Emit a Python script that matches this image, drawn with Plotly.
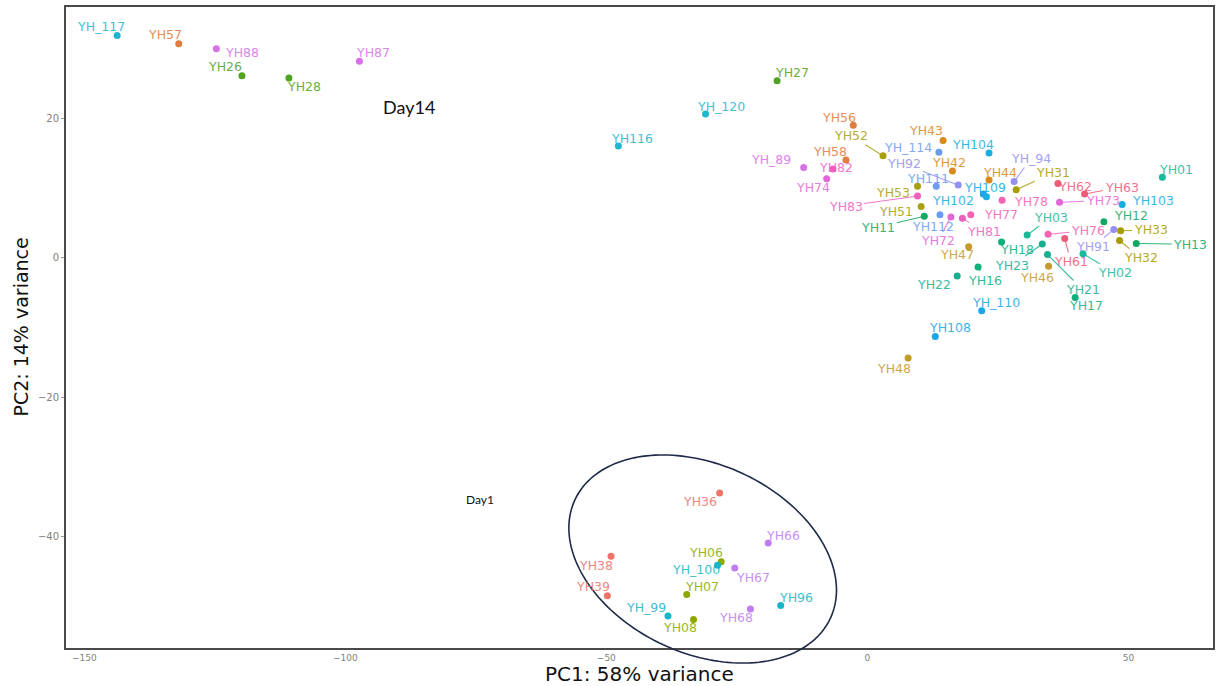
import numpy as np
import plotly.graph_objects as go

# ---------------- data ----------------
SAMPLES = ["YH_117","YH57","YH88","YH26","YH28","YH87","YH27","YH_120","YH116","YH56",
           "YH52","YH58","YH_89","YH82","YH74","YH43","YH_114","YH104","YH92","YH42",
           "YH111","YH109","YH102","YH53","YH83","YH51","YH11","YH112","YH72","YH81",
           "YH77","YH47","YH18","YH16","YH22","YH_110","YH108","YH48","YH23","YH03",
           "YH_94","YH44","YH31","YH62","YH63","YH78","YH73","YH103","YH01","YH12",
           "YH76","YH91","YH33","YH13","YH32","YH61","YH02","YH46","YH21","YH17",
           "YH36","YH66","YH38","YH06","YH_100","YH67","YH39","YH07","YH96","YH_99",
           "YH68","YH08"]

PC1 = [-143.7,-131.9,-124.7,-119.8,-110.8,-97.3,-17.3,-31.0,-47.7,-2.7,
       3.0,-4.1,-12.2,-6.6,-7.8,14.5,13.7,23.3,17.4,16.3,
       13.2,22.2,22.8,9.6,9.6,10.3,10.9,13.9,16.0,18.2,
       19.8,19.4,25.7,21.2,17.2,21.9,13.0,7.8,33.5,30.6,
       28.1,23.3,28.5,36.5,41.6,25.8,36.8,48.8,56.5,45.3,
       34.6,47.2,48.5,51.5,48.3,37.8,41.3,34.7,34.5,39.8,
       -28.3,-19.0,-49.1,-28.0,-28.7,-25.4,-49.8,-34.6,-16.6,-38.2,
       -22.4,-33.3]

PC2 = [32.0,30.8,30.1,26.2,25.9,28.3,25.5,20.7,16.1,19.1,
       14.7,14.1,13.0,12.8,11.4,16.9,15.2,15.1,10.5,12.5,
       10.3,9.2,8.8,10.3,8.9,7.4,6.0,6.2,5.9,5.7,
       6.2,1.6,2.3,-1.3,-2.6,-7.6,-11.3,-14.4,2.0,3.3,
       11.0,11.2,9.8,10.7,9.2,8.3,8.0,7.7,11.6,5.2,
       3.4,4.1,3.9,2.1,2.5,2.8,0.6,-1.2,0.5,-5.7,
       -33.8,-41.0,-42.9,-43.7,-44.2,-44.6,-48.6,-48.4,-50.0,-51.5,
       -50.5,-52.0]

GROUP = ["116-120","56-58","87-89","26-28","26-28","87-89","26-28","116-120","116-120","56-58",
         "51-53","56-58","87-89","81-83","72-74","42-44","111-114","102-104","91-94","42-44",
         "111-114","108-110","102-104","51-53","81-83","51-53","11-13","111-114","72-74","81-83",
         "76-78","46-48","16-18","16-18","21-23","108-110","108-110","46-48","21-23","01-03",
         "91-94","42-44","31-33","61-63","61-63","76-78","72-74","102-104","01-03","11-13",
         "76-78","91-94","31-33","11-13","31-33","61-63","01-03","46-48","21-23","16-18",
         "36-39","66-68","36-39","06-08","96-100","66-68","36-39","06-08","96-100","96-100",
         "66-68","06-08"]

X_TITLE = "PC1: 58% variance"
Y_TITLE = "PC2: 14% variance"
X_TICKS = [-150, -100, -50, 0, 50]
Y_TICKS = [-40, -20, 0, 20]

# ---------------- styling / layout ----------------
GROUP_COLORS = {
    "01-03": "#19B99A", "06-08": "#8FA800", "11-13": "#12A860", "16-18": "#10B07A",
    "21-23": "#1AAE90", "26-28": "#4EA41C", "31-33": "#A69E00", "36-39": "#EE7468",
    "42-44": "#D98A1A", "46-48": "#C49A2A", "51-53": "#A8A010", "56-58": "#E07B3E",
    "61-63": "#EE5A78", "66-68": "#C07CF0", "72-74": "#E268D8", "76-78": "#F462B4",
    "81-83": "#EE5FC0", "87-89": "#D870E8", "91-94": "#9590F0", "96-100": "#18B4C8",
    "102-104": "#18AEDF", "108-110": "#1AA6E6", "111-114": "#6C9CF2", "116-120": "#1EB6D0",
}

# label offsets in screen pixels (dx right, dy down) and whether a connector is drawn
LABEL_OFFSET = {
    "YH_117": (-16, -9, 0), "YH57": (-14, -9, 0), "YH88": (26, 4, 0), "YH26": (-17, -9, 0),
    "YH28": (15, 9, 0), "YH87": (14, -9, 0), "YH27": (15, -8, 0), "YH_120": (15, -8, 0),
    "YH116": (14, -8, 0), "YH56": (-14, -8, 0), "YH52": (-32, -20, 1), "YH58": (-16, -8, 0),
    "YH_89": (-33, -8, 0), "YH82": (3, -1, 0), "YH74": (-14, 9, 0), "YH43": (-17, -10, 0),
    "YH_114": (-31, -5, 0), "YH104": (-16, -9, 0), "YH92": (-54, -21, 1), "YH42": (-3, -9, 0),
    "YH111": (-8, -8, 0), "YH109": (2, -7, 0), "YH102": (-33, 4, 0), "YH53": (-25, 6, 0),
    "YH83": (-72, 10, 1), "YH51": (-25, 5, 0), "YH11": (-46, 11, 1), "YH112": (-7, 12, 0),
    "YH72": (-13, 24, 1), "YH81": (22, 13, 1), "YH77": (30, 0, 0), "YH47": (-12, 8, 0),
    "YH18": (15, 8, 0), "YH16": (7, 13, 1), "YH22": (-23, 8, 0), "YH_110": (14, -8, 0),
    "YH108": (15, -9, 0), "YH48": (-14, 10, 0), "YH23": (-30, 21, 1), "YH03": (24, -18, 1),
    "YH_94": (17, -23, 1), "YH44": (11, -8, 0), "YH31": (37, -17, 1), "YH62": (17, 3, 1),
    "YH63": (37, -7, 1), "YH78": (29, 1, 0), "YH73": (43, -2, 1), "YH103": (31, -4, 0),
    "YH01": (14, -8, 0), "YH12": (27, -6, 0), "YH76": (40, -4, 1), "YH91": (-21, 17, 1),
    "YH33": (30, -1, 1), "YH13": (54, 1, 1), "YH32": (21, 17, 1), "YH61": (6, 23, 1),
    "YH02": (32, 19, 1), "YH46": (-12, 11, 0), "YH21": (35, 35, 1), "YH17": (11, 8, 0),
    "YH36": (-20, 9, 0), "YH66": (15, -8, 0), "YH38": (-15, 9, 0), "YH06": (-15, -9, 0),
    "YH_100": (-22, 4, 0), "YH67": (18, 9, 0), "YH39": (-14, -9, 0), "YH07": (15, -8, 0),
    "YH96": (15, -8, 0), "YH_99": (-22, -9, 0), "YH68": (-14, 8, 0), "YH08": (-14, 8, 0),
}

W, H = 1219, 686
M_L, M_R, M_T, M_B = 66, 4, 7, 38
X_RANGE = [-153.5, 66.2]
Y_RANGE = [-56.1, 36.1]
LABEL_FONT = "DejaVu Sans"

colors = [GROUP_COLORS[g] for g in GROUP]

fig = go.Figure()
fig.add_trace(go.Scatter(
    x=PC1, y=PC2, mode="markers",
    marker=dict(size=7, color=colors, line=dict(width=0)),
    text=SAMPLES, hoverinfo="text+x+y", showlegend=False,
))

annotations = []
for name, x, y, c in zip(SAMPLES, PC1, PC2, colors):
    dx, dy, seg = LABEL_OFFSET[name]
    annotations.append(dict(
        x=x, y=y, xref="x", yref="y", text=name,
        showarrow=True, ax=dx, ay=dy, arrowhead=0, arrowwidth=1.1,
        arrowcolor=c if seg else "rgba(0,0,0,0)", standoff=3,
        font=dict(family=LABEL_FONT, size=12.5, color=c),
        opacity=0.85,
    ))

# free text annotations
annotations.append(dict(x=-87.8, y=21.7, xref="x", yref="y", text="Day14", showarrow=False,
                        font=dict(family="Lato", size=18, color="#111111")))
annotations.append(dict(x=-74.2, y=-34.8, xref="x", yref="y", text="Day1", showarrow=False,
                        font=dict(family="Lato", size=12, color="#111111")))

# axis titles
plot_w = W - M_L - M_R
plot_h = H - M_T - M_B
annotations.append(dict(x=0.5, y=-(M_B + 1) / plot_h, xref="paper", yref="paper",
                        text=X_TITLE, showarrow=False, xanchor="center", yanchor="bottom",
                        borderpad=0,
                        font=dict(family="DejaVu Sans", size=20, color="#111111")))
annotations.append(dict(x=(20 - M_L) / plot_w, y=0.5, xref="paper", yref="paper",
                        text=Y_TITLE, showarrow=False, xanchor="center", yanchor="middle",
                        textangle=-90,
                        font=dict(family="DejaVu Sans", size=19, color="#111111")))

# ellipse around the Day1 group (drawn in paper coords so it may cross the frame)
ELL_CENTER = (-31.55, -43.3)     # data units
ELL_A, ELL_B, ELL_ROT = 141.0, 94.4, np.deg2rad(24.7)  # pixels, clockwise on screen
px_per_x = plot_w / (X_RANGE[1] - X_RANGE[0])
px_per_y = plot_h / (Y_RANGE[1] - Y_RANGE[0])
cx_px = (ELL_CENTER[0] - X_RANGE[0]) * px_per_x
cy_px = (ELL_CENTER[1] - Y_RANGE[0]) * px_per_y  # from bottom, upward
t = np.linspace(0, 2 * np.pi, 181)
ox = ELL_A * np.cos(t) * np.cos(ELL_ROT) - ELL_B * np.sin(t) * np.sin(ELL_ROT)
oy = ELL_A * np.cos(t) * np.sin(ELL_ROT) + ELL_B * np.sin(t) * np.cos(ELL_ROT)  # screen-down
xs = (cx_px + ox) / plot_w
ys = (cy_px - oy) / plot_h
path = "M " + " L ".join(f"{a:.5f},{b:.5f}" for a, b in zip(xs, ys)) + " Z"

fig.update_layout(
    width=W, height=H,
    margin=dict(l=M_L, r=M_R, t=M_T, b=M_B, pad=0),
    paper_bgcolor="white", plot_bgcolor="white",
    annotations=annotations,
    shapes=[dict(type="path", xref="paper", yref="paper", path=path,
                 line=dict(color="#1E2A48", width=1.6), fillcolor="rgba(0,0,0,0)",
                 layer="above")],
    showlegend=False,
)
fig.update_xaxes(range=X_RANGE, tickvals=X_TICKS, ticks="",
                 showgrid=False, zeroline=False,
                 showline=True, linecolor="#4a4a4a", linewidth=2, mirror=True,
                 tickfont=dict(family="DejaVu Sans", size=9, color="#808080"))
fig.update_yaxes(range=Y_RANGE, tickvals=Y_TICKS, ticks="outside", ticklen=3,
                 tickcolor="#9a9a9a", showgrid=False, zeroline=False,
                 showline=True, linecolor="#4a4a4a", linewidth=2, mirror=True,
                 tickfont=dict(family="DejaVu Sans", size=10, color="#808080"))

fig.write_html("out.html")
